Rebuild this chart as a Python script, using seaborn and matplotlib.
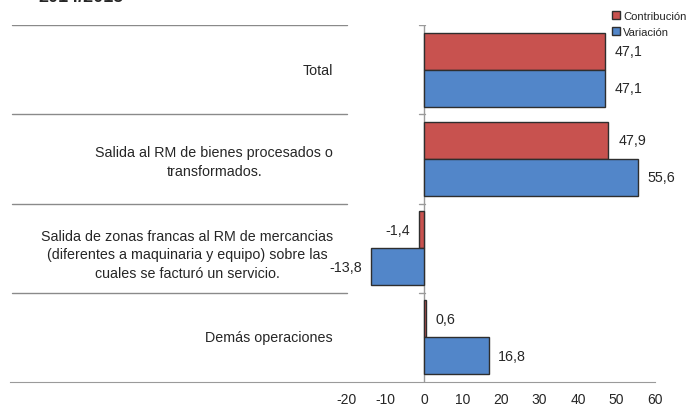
import matplotlib
matplotlib.use("Agg")
import matplotlib.pyplot as plt
import pandas as pd
import seaborn as sns

#data
categorias = ["Total",
              "Salida al RM de bienes procesados o\ntransformados.",
              "Salida de zonas francas al RM de mercancias\n(diferentes a maquinaria y equipo) sobre las\ncuales se facturó un servicio.",
              "Demás operaciones"]
contribucion = [47.1, 47.9, -1.4, 0.6]
variacion = [47.1, 55.6, -13.8, 16.8]
series = ["Contribución", "Variación"]
colores = ["#C8524F", "#5286C9"]
xticks = [-20, -10, 0, 10, 20, 30, 40, 50, 60]
titulo = "2014/2015"

#small vertical nudges of the category labels (category units)
label_dy = [0, 0.03, 0.07, 0]

df = pd.DataFrame({"categoria": categorias * 2,
                   "serie": [series[0]] * 4 + [series[1]] * 4,
                   "valor": contribucion + variacion})

sns.set_style("white")
plt.rcParams['font.family'] = ['Liberation Sans', 'DejaVu Sans']

fig = plt.figure(figsize=(7, 4.1), dpi=100)
ax = fig.add_axes([10/700, 27/410, 645/700, 357/410])

g = sns.barplot(data=df, y="categoria", x="valor", hue="serie", hue_order=series,
                palette=colores, saturation=1, orient="h", width=0.83,
                edgecolor="#2e2e2e", linewidth=1.0, ax=ax, legend=False)

ax.set_xlim(-107.5, 60)
ax.set_ylim(3.5, -0.5)
ax.set_xticks(xticks)
ax.set_xticklabels([str(t) for t in xticks], fontsize=10)
ax.set_yticks([])
ax.set_xlabel("")
ax.set_ylabel("")
for s in ["top", "right", "left"]:
    ax.spines[s].set_visible(False)
ax.spines["bottom"].set_color("#9a9a9a")
ax.tick_params(axis="x", direction="inout", length=4, color="#9a9a9a", pad=5)

#vertical axis at zero with small ticks on category limits
ax.axvline(0, color="#9a9a9a", lw=1, zorder=0)
for b in [-0.5, 0.5, 1.5, 2.5]:
    ax.plot([-107, -20], [b, b], color="#8a8a8a", lw=1)
    ax.plot([-1.4, 0.4], [b, b], color="#9a9a9a", lw=1)

#category labels, right edge near x=-23.6
for i, c in enumerate(categorias):
    ax.text(-23.6, i + label_dy[i], c, ha="right", va="center", multialignment="center",
            fontsize=10.3, linespacing=1.4)

#value labels
for cont in ax.containers:
    for bar in cont:
        w = bar.get_width()
        y = bar.get_y() + bar.get_height() / 2
        txt = ("%.1f" % w).replace(".", ",")
        if w >= 0:
            ax.annotate(txt, (w, y), xytext=(7, 0), textcoords="offset points",
                        ha="left", va="center", fontsize=10.3)
        else:
            ax.annotate(txt, (w, y), xytext=(-6, 0), textcoords="offset points",
                        ha="right", va="center", fontsize=10.3)

#legend
hs = [plt.Line2D([], [], marker="s", ls="", markersize=6, markerfacecolor=c,
                 markeredgecolor="#2e2e2e") for c in colores]
fig.legend(hs, series, loc="upper left", bbox_to_anchor=(606/700, 1 - 6/410),
           frameon=False, fontsize=8.1, handlelength=0.8, handletextpad=0.25,
           borderpad=0, labelspacing=0.6)

#title is cut off at the top in the reference
fig.text(38/700, 1 - 2/410, titulo, fontsize=13, fontweight="bold", va="baseline")

fig.savefig("out.png", dpi=100)
